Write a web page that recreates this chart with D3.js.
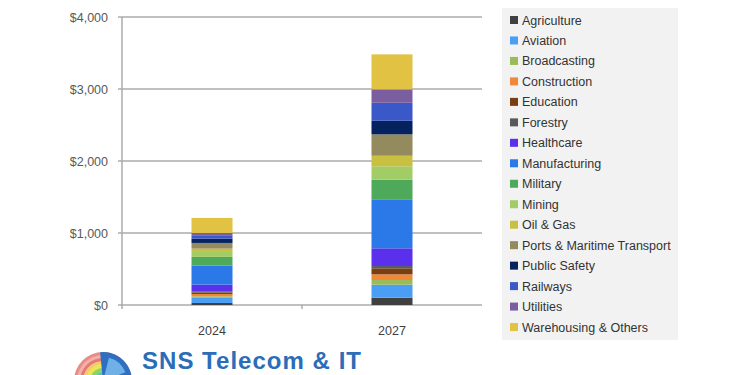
<!DOCTYPE html>
<html>
<head>
<meta charset="utf-8">
<script src="https://cdn.jsdelivr.net/npm/d3@7"></script>
<style>
  body { margin: 0; background: #ffffff; }
  svg { display: block; }
</style>
</head>
<body>
<script>
// chart data
const years = ["2024", "2027"];
const sectors = ["Agriculture", "Aviation", "Broadcasting", "Construction", "Education",
  "Forestry", "Healthcare", "Manufacturing", "Military", "Mining", "Oil & Gas",
  "Ports & Maritime Transport", "Public Safety", "Railways", "Utilities", "Warehousing & Others"];
const values2024 = [28, 79, 14, 32, 21, 17, 92, 264, 121, 69, 46, 79, 60, 47, 32, 208];
const values2027 = [101, 181, 65, 79, 83, 32, 246, 681, 272, 186, 147, 297, 189, 250, 186, 486];
const yTicks = [0, 1000, 2000, 3000, 4000];
const colors = ["#404040", "#4a9ff5", "#9bbb59", "#f0883a", "#7a3f10", "#595959", "#5a30ec",
  "#2b78e8", "#4eaa5a", "#a2cc66", "#c8c040", "#938a5e", "#05215e", "#3a58c8", "#7b5ea0", "#e2c242"];

const width = 750, height = 375;
const svg = d3.select("body").append("svg")
  .attr("width", width)
  .attr("height", height);

// one row per year for d3.stack
const table = years.map((y, i) => {
  let row = { year: y };
  sectors.forEach((s, j) => { row[s] = (i == 0 ? values2024 : values2027)[j]; });
  return row;
});

const x = d3.scaleBand().domain(years).range([122, 482]);
const y = d3.scaleLinear().domain([0, 4000]).range([305, 17]);
const color = d3.scaleOrdinal().domain(sectors).range(colors);

// gridlines
svg.append("g")
  .selectAll("line")
  .data(yTicks)
  .join("line")
    .attr("x1", 118)
    .attr("x2", 482)
    .attr("y1", d => y(d))
    .attr("y2", d => y(d))
    .attr("stroke", "#ababab")
    .attr("stroke-width", 1.5);

// left axis line
svg.append("line")
  .attr("x1", 122).attr("x2", 122)
  .attr("y1", y(4000)).attr("y2", y(0) + 4)
  .attr("stroke", "#ababab")
  .attr("stroke-width", 1.5);

// x tick in the middle
svg.append("line")
  .attr("x1", 302).attr("x2", 302)
  .attr("y1", y(0)).attr("y2", y(0) + 4)
  .attr("stroke", "#ababab")
  .attr("stroke-width", 1.5);

// y labels
svg.append("g")
  .selectAll("text")
  .data(yTicks)
  .join("text")
    .attr("x", 108)
    .attr("y", d => y(d) + 4.5)
    .attr("text-anchor", "end")
    .style("font-family", "'Liberation Sans', Arial, sans-serif")
    .style("font-size", "12.5px")
    .style("fill", "#595959")
    .text(d => "$" + d3.format(",")(d));

// x labels
svg.append("g")
  .selectAll("text")
  .data(years)
  .join("text")
    .attr("x", d => x(d) + x.bandwidth() / 2)
    .attr("y", 335)
    .attr("text-anchor", "middle")
    .style("font-family", "'Liberation Sans', Arial, sans-serif")
    .style("font-size", "12.5px")
    .style("fill", "#404040")
    .text(d => d);

// stacked bars
const series = d3.stack().keys(sectors)(table);
const barW = 41;
svg.append("g")
  .selectAll("g")
  .data(series)
  .join("g")
    .attr("fill", d => color(d.key))
  .selectAll("rect")
  .data(d => d)
  .join("rect")
    .attr("x", d => x(d.data.year) + x.bandwidth() / 2 - barW / 2)
    .attr("y", d => y(d[1]))
    .attr("width", barW)
    .attr("height", d => y(d[0]) - y(d[1]));

// legend
svg.append("rect")
  .attr("x", 502).attr("y", 8)
  .attr("width", 176).attr("height", 332)
  .attr("fill", "#f2f2f2");

const legend = svg.append("g")
  .selectAll("g")
  .data(sectors)
  .join("g")
    .attr("transform", (d, i) => "translate(510," + (20 + i * 20.47) + ")");

legend.append("rect")
  .attr("x", 0).attr("y", -4)
  .attr("width", 8).attr("height", 8)
  .attr("fill", d => color(d));

legend.append("text")
  .attr("x", 12)
  .attr("y", 4.5)
  .style("font-family", "'Liberation Sans', Arial, sans-serif")
  .style("font-size", "12.5px")
  .style("fill", "#333333")
  .text(d => d);

// logo: globe + name
const logo = svg.append("g");
const rings = [
  [29, "#e98b86"], [26, "#f4b0a8"], [23, "#e57a72"], [20, "#f6c67a"],
  [17, "#e9e84e"], [13, "#8ed36a"], [9, "#5cc2c0"]
];
logo.selectAll("circle")
  .data(rings)
  .join("circle")
    .attr("cx", 103).attr("cy", 381)
    .attr("r", d => d[0])
    .attr("fill", d => d[1]);
logo.append("path")
  .attr("d", d3.arc()({ innerRadius: 0, outerRadius: 29, startAngle: -0.1, endAngle: Math.PI / 2 + 0.3 }))
  .attr("transform", "translate(103,381)")
  .attr("fill", "#2f6fc0");
logo.append("path")
  .attr("d", d3.arc()({ innerRadius: 6, outerRadius: 24, startAngle: 0.25, endAngle: 1.2 }))
  .attr("transform", "translate(103,381)")
  .attr("fill", "#6fb1e6");

svg.append("text")
  .attr("x", 142)
  .attr("y", 369)
  .attr("textLength", 219)
  .style("font-family", "'Liberation Sans', Arial, sans-serif")
  .style("font-size", "24px")
  .style("font-weight", "bold")
  .style("fill", "#2a6db8")
  .text("SNS Telecom & IT");
</script>
</body>
</html>
